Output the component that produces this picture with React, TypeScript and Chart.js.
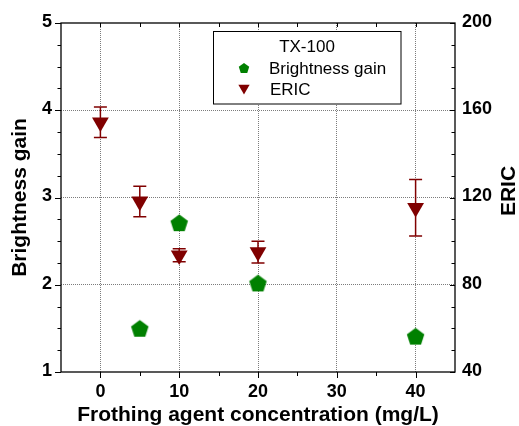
import React, { useEffect, useRef } from "react";
import { Chart, registerables } from "chart.js";

Chart.register(...registerables);

// ---- data ----
const concentrations = [0, 5, 10, 20, 40];
const brightnessGain: (number | null)[] = [null, 1.49, 2.7, 2.01, 1.4];
const ericValues = [154.5, 118.2, 93.5, 95.0, 115.3];
const ericErrors = [7.0, 7.0, 3.0, 5.0, 13.0];
const xTickValues = [0, 10, 20, 30, 40];
const xMinorValues = [5, 15, 25, 35];
const legendTitle = "TX-100";
const seriesNames = ["Brightness gain", "ERIC"];
const xTitle = "Frothing agent concentration (mg/L)";
const yTitle = "Brightness gain";
const y1Title = "ERIC";

const GREEN = "#008000";
const MAROON = "#800000";
const FONT = '"Liberation Sans", Arial, sans-serif';
const GRID = "rgba(110,110,110,0.9)";

function pentagonPath(ctx: CanvasRenderingContext2D, cx: number, cy: number, R: number) {
  ctx.beginPath();
  for (let i = 0; i < 5; i++) {
    const a = -Math.PI / 2 + (i * 2 * Math.PI) / 5;
    const px = cx + R * Math.cos(a);
    const py = cy + R * Math.sin(a);
    if (i === 0) ctx.moveTo(px, py);
    else ctx.lineTo(px, py);
  }
  ctx.closePath();
}

function makePentagon(R: number, color: string) {
  const size = Math.ceil(2 * R + 4);
  const c = document.createElement("canvas");
  c.width = size;
  c.height = size;
  const ctx = c.getContext("2d")!;
  pentagonPath(ctx, size / 2, size / 2, R);
  ctx.fillStyle = color;
  ctx.fill();
  return c;
}

function triangleDown(ctx: CanvasRenderingContext2D, cx: number, cy: number, R: number) {
  ctx.beginPath();
  for (let i = 0; i < 3; i++) {
    const a = Math.PI / 2 + (i * 2 * Math.PI) / 3;
    const px = cx + R * Math.cos(a);
    const py = cy + R * Math.sin(a);
    if (i === 0) ctx.moveTo(px, py);
    else ctx.lineTo(px, py);
  }
  ctx.closePath();
}

const decorPlugin = {
  id: "decor",
  beforeDatasetsDraw(chart: any) {
    const ctx: CanvasRenderingContext2D = chart.ctx;
    const xs = chart.scales.x;
    const ys = chart.scales.y1;
    ctx.save();
    ctx.strokeStyle = MAROON;
    ctx.lineWidth = 1.5;
    concentrations.forEach((c, i) => {
      const v = ericValues[i];
      const e = ericErrors[i];
      const px = xs.getPixelForValue(c);
      const top = ys.getPixelForValue(v + e);
      const bot = ys.getPixelForValue(v - e);
      ctx.beginPath();
      ctx.moveTo(px, top);
      ctx.lineTo(px, bot);
      ctx.moveTo(px - 6.5, top);
      ctx.lineTo(px + 6.5, top);
      ctx.moveTo(px - 6.5, bot);
      ctx.lineTo(px + 6.5, bot);
      ctx.stroke();
    });
    ctx.restore();
  },
  afterDraw(chart: any) {
    const ctx: CanvasRenderingContext2D = chart.ctx;
    const { left, right, top, bottom } = chart.chartArea;
    const xs = chart.scales.x;
    const yl = chart.scales.y;
    const yr = chart.scales.y1;
    ctx.save();
    ctx.strokeStyle = "#000";
    ctx.lineWidth = 1.3;
    ctx.strokeRect(left, top, right - left, bottom - top);

    ctx.lineWidth = 1;
    ctx.beginPath();
    xTickValues.forEach((v) => {
      const p = Math.round(xs.getPixelForValue(v)) + 0.5;
      ctx.moveTo(p, bottom);
      ctx.lineTo(p, bottom + 6);
      ctx.moveTo(p, top);
      ctx.lineTo(p, top + 4);
    });
    xMinorValues.forEach((v) => {
      const p = Math.round(xs.getPixelForValue(v)) + 0.5;
      ctx.moveTo(p, bottom);
      ctx.lineTo(p, bottom + 4);
      ctx.moveTo(p, top);
      ctx.lineTo(p, top + 4);
    });
    for (let v = 1; v <= 5.0001; v += 0.25) {
      const p = Math.round(yl.getPixelForValue(v)) + 0.5;
      const major = Math.abs(v - Math.round(v)) < 1e-6;
      ctx.moveTo(left, p);
      ctx.lineTo(left - (major ? 6 : 3.5), p);
    }
    for (let v = 40; v <= 200.001; v += 10) {
      const p = Math.round(yr.getPixelForValue(v)) + 0.5;
      const major = v % 40 === 0;
      ctx.moveTo(right, p);
      ctx.lineTo(right - (major ? 5 : 3.5), p);
    }
    ctx.stroke();

    ctx.fillStyle = "#000";
    ctx.font = `bold 21px ${FONT}`;
    ctx.textAlign = "center";
    ctx.textBaseline = "middle";
    ctx.fillText(xTitle, (left + right) / 2, 415);
    ctx.save();
    ctx.translate(20, (top + bottom) / 2);
    ctx.rotate(-Math.PI / 2);
    ctx.fillText(yTitle, 0, 0);
    ctx.restore();
    ctx.save();
    ctx.translate(509, 191);
    ctx.rotate(-Math.PI / 2);
    ctx.fillText(y1Title, 0, 0);
    ctx.restore();

    const lx = 213.5, ly = 31.5, lw = 187.5, lh = 72.5;
    ctx.fillStyle = "#fff";
    ctx.fillRect(lx, ly, lw, lh);
    ctx.strokeStyle = "#000";
    ctx.lineWidth = 1;
    ctx.strokeRect(lx, ly, lw, lh);
    ctx.fillStyle = "#000";
    ctx.font = `17px ${FONT}`;
    ctx.textAlign = "center";
    ctx.fillText(legendTitle, 307, 47);
    ctx.textAlign = "left";
    ctx.fillText(seriesNames[0], 269, 69);
    ctx.fillText(seriesNames[1], 270, 90);
    ctx.fillStyle = GREEN;
    pentagonPath(ctx, 244, 68.5, 5.5);
    ctx.fill();
    ctx.fillStyle = MAROON;
    triangleDown(ctx, 244, 88, 6.5);
    ctx.fill();
    ctx.restore();
  },
};

export default function App() {
  const ref = useRef<HTMLCanvasElement | null>(null);
  useEffect(() => {
    if (!ref.current) return;
    const pent = makePentagon(9.2, GREEN);
    const chart = new Chart(ref.current, {
      type: "scatter",
      data: {
        datasets: [
          {
            label: seriesNames[0],
            data: concentrations
              .map((c, i) => ({ x: c, y: brightnessGain[i] }))
              .filter((d) => d.y !== null) as any,
            yAxisID: "y",
            pointStyle: pent as any,
            pointRadius: 9,
            backgroundColor: GREEN,
            borderColor: GREEN,
            showLine: false,
          },
          {
            label: seriesNames[1],
            data: concentrations.map((c, i) => ({ x: c, y: ericValues[i] })),
            yAxisID: "y1",
            pointStyle: "triangle",
            rotation: 180,
            pointRadius: 9.7,
            borderWidth: 0,
            backgroundColor: MAROON,
            borderColor: MAROON,
            showLine: false,
          },
        ],
      },
      options: {
        responsive: false,
        animation: false,
        devicePixelRatio: 1,
        layout: { padding: { top: 23, left: 0, right: 0, bottom: 0 } },
        plugins: {
          legend: { display: false },
          tooltip: { enabled: false },
          title: { display: false },
        },
        scales: {
          x: {
            type: "linear",
            min: -5,
            max: 45,
            afterBuildTicks: (s: any) => {
              s.ticks = xTickValues.map((v) => ({ value: v }));
            },
            afterFit: (s: any) => {
              s.height = 54;
            },
            ticks: {
              font: { family: FONT, size: 18, weight: "bold" },
              color: "#000",
              padding: 9,
              maxRotation: 0,
              autoSkip: false,
            },
            grid: { color: GRID, lineWidth: 1, drawTicks: false },
            border: { display: false, dash: [1, 1] },
          },
          y: {
            type: "linear",
            position: "left",
            min: 1,
            max: 5,
            afterFit: (s: any) => {
              s.width = 61;
            },
            ticks: {
              stepSize: 1,
              font: { family: FONT, size: 18, weight: "bold" },
              color: "#000",
              padding: 9,
              labelOffset: -1,
            },
            grid: {
              color: (c: any) =>
                c.tick && (c.tick.value === 1 || c.tick.value === 5) ? "rgba(0,0,0,0)" : GRID,
              lineWidth: 1,
              drawTicks: false,
            },
            border: { display: false, dash: [1, 1] },
          },
          y1: {
            type: "linear",
            position: "right",
            min: 40,
            max: 200,
            afterFit: (s: any) => {
              s.width = 64;
            },
            ticks: {
              stepSize: 40,
              font: { family: FONT, size: 18, weight: "bold" },
              color: "#000",
              padding: 7,
              labelOffset: -1,
            },
            grid: { drawOnChartArea: false, drawTicks: false },
            border: { display: false },
          },
        },
      },
      plugins: [decorPlugin],
    });
    return () => chart.destroy();
  }, []);
  return (
    <canvas
      ref={ref}
      width={519}
      height={426}
      style={{ position: "absolute", left: 0, top: 0, width: 519, height: 426 }}
    />
  );
}
